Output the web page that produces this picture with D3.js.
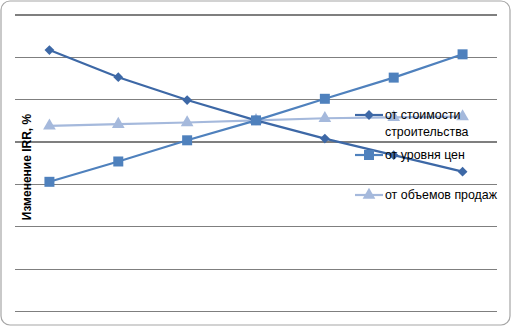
<!DOCTYPE html>
<html><head><meta charset="utf-8">
<script src="https://cdn.jsdelivr.net/npm/d3@7"></script>
<style>body{margin:0;background:#fff}svg{display:block}</style>
</head><body>
<svg id="c" width="511" height="326"></svg>
<script>
const categories = ["-30%","-20%","-10%","0%","10%","20%","30%"];
const seriesNames = ["от стоимости строительства","от уровня цен","от объемов продаж"];
const costValues = [16.6, 10.2, 4.8, 0, -4.3, -8.2, -12.1];
const priceValues = [-14.5, -9.7, -4.7, 0, 5.1, 10.1, 15.6];
const volumeValues = [-1.3, -0.9, -0.5, 0, 0.5, 0.7, 0.9];
const yTicks = [-45, -35, -25, -15, -5, 5, 15, 25];
const yLabel = "Изменение IRR, %";

const svg = d3.select("#c");
svg.append("rect").attr("x",1).attr("y",1).attr("width",509).attr("height",324)
  .attr("rx",9).attr("fill","#fff").attr("stroke","#a6a6a6").attr("stroke-width",1.2);

const L = 15, R = 497, T = 14.5, B = 311;
const x = d3.scaleBand().domain(categories).range([L, R]);
const y = d3.scaleLinear().domain([-45, 25]).range([B, T]);

const grid = d3.axisLeft(y).tickValues(yTicks).tickSize(-(R - L)).tickFormat("");
const gg = svg.append("g").attr("transform", `translate(${L},0)`).call(grid);
gg.select(".domain").remove();
gg.selectAll(".tick line").attr("stroke","#7f7f7f").attr("stroke-width",1.2).attr("shape-rendering","crispEdges");

svg.append("text").attr("transform","translate(31,167) rotate(-90)")
  .attr("text-anchor","middle").attr("font-family","Liberation Sans, Arial, sans-serif")
  .attr("font-size",12).attr("font-weight","bold").attr("fill","#000").text(yLabel);

const series = [
  {name: seriesNames[0], values: costValues, color:"#3d68a6", sym:d3.symbolSquare, size:48, rot:45},
  {name: seriesNames[1], values: priceValues, color:"#4f81bd", sym:d3.symbolSquare, size:100, rot:0},
  {name: seriesNames[2], values: volumeValues, color:"#a5b9dc", sym:d3.symbolTriangle, size:70, rot:0}
];
const cx = c => x(c) + x.bandwidth()/2;
const line = d3.line().x((d,i)=>cx(categories[i])).y(d=>y(d));

[series[2], series[0], series[1]].forEach(s => {
  const g = svg.append("g");
  g.append("path").attr("d", line(s.values)).attr("fill","none")
    .attr("stroke", s.color).attr("stroke-width", 2.2);
  g.selectAll("path.m").data(s.values).join("path").attr("class","m")
    .attr("transform",(d,i)=>`translate(${cx(categories[i])},${y(d)}) rotate(${s.rot})`)
    .attr("d", d3.symbol().type(s.sym).size(s.size)).attr("fill", s.color);
});

const lg = svg.append("g").attr("font-family","Liberation Sans, Arial, sans-serif").attr("font-size",12.4).attr("fill","#000");
const legendRows = [
  {s: series[0], y: 115, lines:["от стоимости","строительства"]},
  {s: series[1], y: 155, lines:["от уровня цен"]},
  {s: series[2], y: 195, lines:["от объемов продаж"]}
];
legendRows.forEach(r => {
  lg.append("line").attr("x1",355).attr("x2",383).attr("y1",r.y).attr("y2",r.y)
    .attr("stroke", r.s.color).attr("stroke-width",2.2);
  lg.append("path").attr("transform",`translate(369,${r.y}) rotate(${r.s.rot})`)
    .attr("d", d3.symbol().type(r.s.sym).size(r.s.size)).attr("fill", r.s.color);
  r.lines.forEach((t,i) => {
    lg.append("text").attr("x",385).attr("y", r.y + 4 + i*17).text(t);
  });
});
</script>
</body></html>
